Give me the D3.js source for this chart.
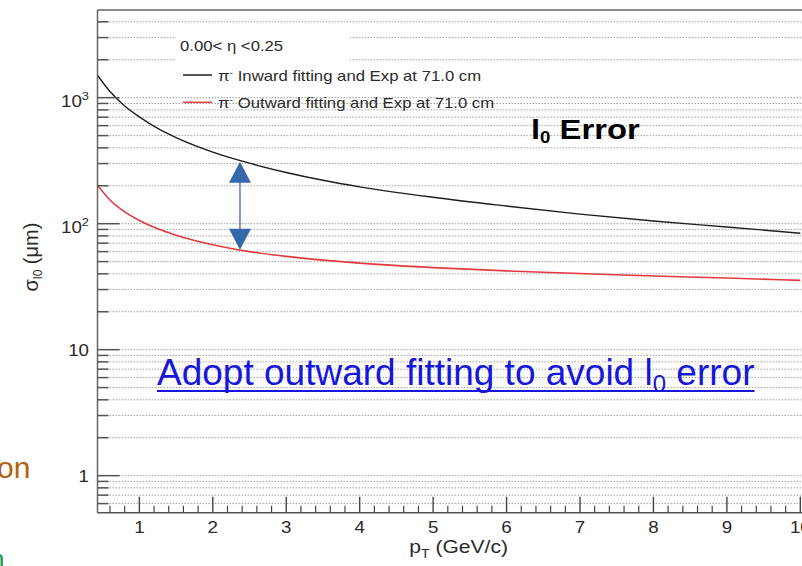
<!DOCTYPE html>
<html><head><meta charset="utf-8">
<script src="https://cdn.jsdelivr.net/npm/d3@7"></script>
<style>
html,body{margin:0;padding:0;background:#fff;overflow:hidden}
svg{display:block;font-family:"Liberation Sans",Arial,Helvetica,sans-serif}
</style></head><body>
<svg id="chart" width="802" height="566"></svg>
<script>
// transverse momentum sample points (GeV/c)
const pT = [0.43, 0.6, 0.8, 1.0, 1.25, 1.5, 2.0, 2.5, 3.0, 3.5, 4.0, 5.0, 6.0, 7.0, 8.0, 9.0, 10.0];
// sigma_l0 (um) for inward and outward fitting
const inward  = [1510, 1120, 860, 705, 570, 482, 370, 302, 255, 221, 196, 162, 138, 119, 105, 94, 84];
const outward = [202, 154, 124, 106, 91, 81, 68, 60, 55, 51.4, 48.6, 44.8, 42.2, 40.2, 38.4, 37, 35.5];
// axis ticks
const xMajorTicks = [1, 2, 3, 4, 5, 6, 7, 8, 9, 10];
const yMajorTicks = [1, 10, 100, 1000];
const yTickBase = ["1", "10", "10", "10"];
const yTickExp  = ["", "", "2", "3"];
// legend text
const legendTitle = "0.00< \u03b7 <0.25";
const seriesNames = ["Inward fitting and Exp at 71.0 cm", "Outward fitting and Exp at 71.0 cm"];
const seriesColors = ["#1e1e1e", "#e23a3f"];
// gap between the two fits, marked at pT = 2.37
const arrowPt = 2.37, arrowFrom = 310, arrowTo = 62;

const svg = d3.select("#chart");
const L = 97.5, R = 804, T = 10, B = 512.7;
const SX = 1.17; // horizontal stretch of the plot's lettering

const x = d3.scaleLinear().domain([0.43, 10.05]).range([L, R]);
const y = d3.scaleLog().domain([0.508, 4966]).range([B, T]);

svg.append("rect").attr("width", 802).attr("height", 566).attr("fill", "#fff");

// minor decade ticks
const yMinor = [];
[0.1, 1, 10, 100, 1000].forEach(d => {
  for (let k = 2; k <= 9; k++) {
    const v = d * k;
    if (v >= y.domain()[0] && v <= y.domain()[1]) yMinor.push(v);
  }
});
const yAll = yMinor.concat(yMajorTicks);

// horizontal dotted grid
svg.append("g").selectAll("line").data(yAll).join("line")
  .attr("x1", L).attr("x2", R)
  .attr("y1", d => y(d)).attr("y2", d => y(d))
  .attr("stroke", "#a0a0a0").attr("stroke-width", 1)
  .attr("stroke-dasharray", "1.5,1.5");

// blank patch behind the legend header
svg.append("rect").attr("x", 176).attr("y", 29).attr("width", 174).attr("height", 38).attr("fill", "#fff");

// curves
svg.append("clipPath").attr("id", "plotclip")
  .append("rect").attr("x", L).attr("y", T).attr("width", R - L).attr("height", B - T);
const line = d3.line().x(d => x(d[0])).y(d => y(d[1])).curve(d3.curveMonotoneX);
const curves = svg.append("g").attr("clip-path", "url(#plotclip)");
curves.append("path").datum(pT.map((p, i) => [p, inward[i]]))
  .attr("d", line).attr("fill", "none").attr("stroke", seriesColors[0]).attr("stroke-width", 1.4);
curves.append("path").datum(pT.map((p, i) => [p, outward[i]]))
  .attr("d", line).attr("fill", "none").attr("stroke", seriesColors[1]).attr("stroke-width", 1.6);

// frame
svg.append("line").attr("x1", L).attr("x2", R).attr("y1", T).attr("y2", T)
  .attr("stroke", "#8a8a8a").attr("stroke-width", 2);
svg.append("line").attr("x1", L).attr("x2", L).attr("y1", T).attr("y2", B)
  .attr("stroke", "#666").attr("stroke-width", 1.5);
svg.append("line").attr("x1", L).attr("x2", R).attr("y1", B).attr("y2", B)
  .attr("stroke", "#555").attr("stroke-width", 1.5);

// y ticks
svg.append("g").selectAll("line").data(yAll).join("line")
  .attr("x1", L).attr("x2", d => L + (yMajorTicks.includes(d) ? 22 : 11))
  .attr("y1", d => y(d)).attr("y2", d => y(d))
  .attr("stroke", "#555").attr("stroke-width", 1.5);

// x ticks
const xMinor = d3.range(0.6, 10.01, 0.2).filter(v => Math.abs(v - Math.round(v)) > 1e-6);
svg.append("g").selectAll("line").data(xMinor).join("line")
  .attr("x1", d => x(d)).attr("x2", d => x(d)).attr("y1", B).attr("y2", B - 7)
  .attr("stroke", "#444").attr("stroke-width", 1.2);
svg.append("g").selectAll("line").data(xMajorTicks).join("line")
  .attr("x1", d => x(d)).attr("x2", d => x(d)).attr("y1", B).attr("y2", B - 16)
  .attr("stroke", "#444").attr("stroke-width", 1.4);

function stext(px, py, size, anchor, color) {
  const g = svg.append("g").attr("transform", `translate(${px},${py}) scale(${SX},1)`);
  return g.append("text").attr("font-size", size).attr("text-anchor", anchor || "start")
    .attr("fill", color || "#2a2a2a");
}

// x tick labels
xMajorTicks.forEach(v => { stext(x(v), 533, 16, "middle").text(v); });

// y tick labels
yMajorTicks.forEach((v, i) => {
  const t = stext(89, y(v) + (yTickExp[i] ? 9.5 : 6.2), 16, "end");
  t.append("tspan").text(yTickBase[i]);
  if (yTickExp[i]) t.append("tspan").attr("font-size", 11).attr("dy", -7.5).text(yTickExp[i]);
});

// axis titles
const xt = stext(508, 553, 18, "end");
xt.append("tspan").text("p");
xt.append("tspan").attr("font-size", 12).attr("dy", 5).text("T");
xt.append("tspan").attr("dy", -5).text(" (GeV/c)");

const yt = svg.append("text").attr("transform", "translate(38,257) rotate(-90)")
  .attr("font-size", 20).attr("text-anchor", "middle").attr("fill", "#2a2a2a");
yt.append("tspan").text("\u03c3");
yt.append("tspan").attr("font-size", 12).attr("dy", 4).text("l0");
yt.append("tspan").attr("dy", -4).text(" (\u03bcm)");

// legend
stext(180, 50.5, 14.3, "start").text(legendTitle);
[75, 102.3].forEach((ly, i) => {
  svg.append("line").attr("x1", 183).attr("x2", 212).attr("y1", ly).attr("y2", ly)
    .attr("stroke", seriesColors[i]).attr("stroke-width", 1.5);
  const t = stext(218, ly + 5.5, 14.3, "start");
  t.append("tspan").text("\u03c0");
  t.append("tspan").attr("font-size", 9).attr("dy", -5).text("-");
  t.append("tspan").attr("dy", 5).text(" " + seriesNames[i]);
});

// l0 Error label
const le = stext(531, 139, 28, "start", "#000").attr("font-weight", "bold");
le.append("tspan").text("l");
le.append("tspan").attr("font-size", 16).attr("dy", 4).text("0");
le.append("tspan").attr("dy", -4).text(" Error");

// double arrow between the fits
const ax = x(arrowPt), ay1 = y(arrowFrom), ay2 = y(arrowTo);
const arrowColor = "#3567ad";
svg.append("line").attr("x1", ax).attr("x2", ax).attr("y1", ay1 + 18).attr("y2", ay2 - 18)
  .attr("stroke", "#5e86c2").attr("stroke-width", 1.6);
svg.append("path")
  .attr("d", `M${ax},${ay1} L${ax - 11},${ay1 + 21} L${ax + 11},${ay1 + 21} Z`)
  .attr("fill", arrowColor);
svg.append("path")
  .attr("d", `M${ax},${ay2} L${ax - 11},${ay2 - 21} L${ax + 11},${ay2 - 21} Z`)
  .attr("fill", arrowColor);

// blue note
const note = svg.append("text").attr("x", 157).attr("y", 385).attr("font-size", 37)
  .attr("fill", "#1616dc");
note.append("tspan").text("Adopt outward fitting to avoid l");
note.append("tspan").attr("font-size", 24).attr("dy", 7).text("0");
note.append("tspan").attr("dy", -7).text(" error");
const nb = note.node().getBBox();
svg.append("line").attr("x1", nb.x).attr("x2", nb.x + nb.width).attr("y1", 391).attr("y2", 391)
  .attr("stroke", "#1616dc").attr("stroke-width", 2);

// slide text cut by the left edge
svg.append("text").attr("x", -3).attr("y", 478).attr("font-size", 30).attr("fill", "#b3620f").text("on");
svg.append("text").attr("x", -6).attr("y", 530).attr("font-size", 26).attr("fill", "#333").text("l");
svg.append("text").attr("x", -10).attr("y", 568).attr("font-size", 26).attr("fill", "#1a9a50").text("n");
</script>
</body></html>
